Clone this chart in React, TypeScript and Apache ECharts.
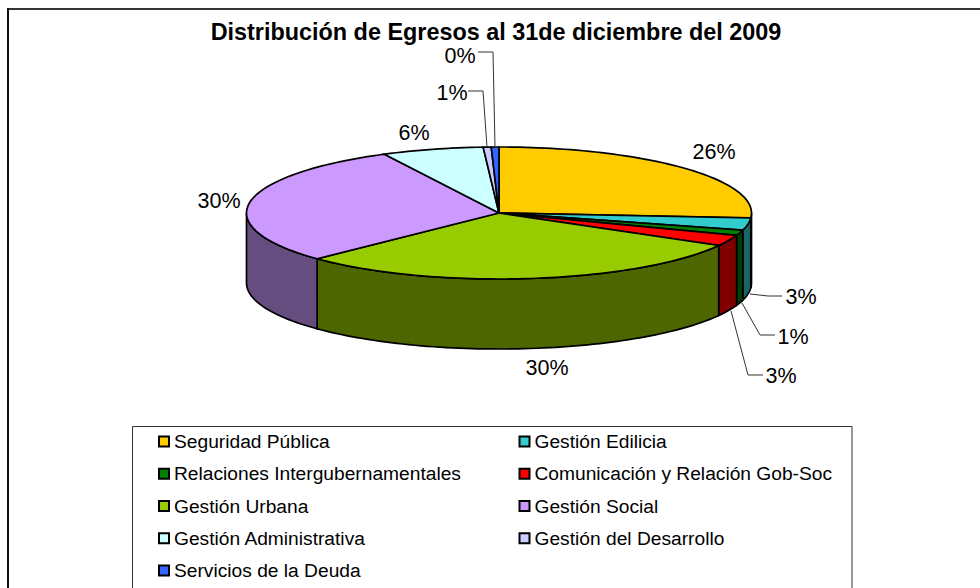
import React, { useEffect, useRef } from "react";
import * as echarts from "echarts";

const categories = [
  "Seguridad Pública",
  "Gestión Edilicia",
  "Relaciones Intergubernamentales",
  "Comunicación y Relación Gob-Soc",
  "Gestión Urbana",
  "Gestión Social",
  "Gestión Administrativa",
  "Gestión del Desarrollo",
  "Servicios de la Deuda",
];
const values = [26.2, 3.0, 1.3, 2.7, 29.6, 29.7, 6.5, 0.51, 0.49];
const percentLabels = ["26%", "3%", "1%", "3%", "30%", "30%", "6%", "1%", "0%"];
const topColors = ["#FFCC00", "#33CCCC", "#008000", "#FF0000", "#99CC00", "#CC99FF", "#CCFFFF", "#CCCCFF", "#3366FF"];
const sideColors = ["#806600", "#1A6666", "#004000", "#800000", "#4D6600", "#664D80", "#668080", "#666680", "#1A3380"];

// Layout only
const CX = 499, CY = 213, RX = 252.5, RY = 66, DEPTH = 70;
const labelPos: number[][] = [
  [714, 152], [801, 297], [793, 337], [781, 376], [547, 368], [219, 201], [414, 133], [452, 93], [460, 56],
];
const leaders: (number[][] | null)[] = [
  null,
  [[782, 296], [768, 296], [750, 294]],
  [[775, 335], [760, 335], [742, 303]],
  [[763, 375], [748, 375], [731, 311]],
  null,
  null,
  null,
  [[468, 91], [483, 91], [487, 147]],
  [[478, 52], [493, 52], [495, 147]],
];

const total = values.reduce((a, b) => a + b, 0);
const starts = values.map((_, i) => values.slice(0, i).reduce((a, b) => a + b, 0));
const pt = (deg: number, dy = 0) => {
  const r = (deg * Math.PI) / 180;
  return [CX + RX * Math.sin(r), CY - RY * Math.cos(r) + dy];
};
const arc = (a: number, b: number, dy = 0) => {
  const n = Math.max(2, Math.ceil(Math.abs(b - a) / 1.5));
  const out: number[][] = [];
  for (let k = 0; k <= n; k++) out.push(pt(a + ((b - a) * k) / n, dy));
  return out;
};

const makeSeries = (i: number) => ({
  type: "custom",
  name: categories[i],
  coordinateSystem: "none",
  itemStyle: { color: topColors[i], borderColor: "#000", borderWidth: 1 },
  data: [[values[i]]],
  renderItem: (_p: any, api: any) => {
    const a1 = (starts[i] / total) * 360;
    const a2 = a1 + (api.value(0) / total) * 360;
    const children: any[] = [];
    const s = Math.max(a1, 90);
    const e = Math.min(a2, 270);
    if (e > s) {
      children.push({
        type: "polygon",
        z2: 1,
        shape: { points: [...arc(s, e), ...arc(e, s, DEPTH)] },
        style: { fill: sideColors[i], stroke: "#000", lineWidth: 1.7 },
      });
    }
    children.push({
      type: "polygon",
      z2: 2,
      shape: { points: [[CX, CY], ...arc(a1, a2)] },
      style: { fill: topColors[i], stroke: "#000", lineWidth: 1.7 },
    });
    if (leaders[i]) {
      children.push({
        type: "polyline",
        z2: 3,
        shape: { points: leaders[i] },
        style: { fill: "none", stroke: "#333", lineWidth: 1 },
      });
    }
    children.push({
      type: "text",
      z2: 4,
      x: labelPos[i][0],
      y: labelPos[i][1],
      style: {
        text: percentLabels[i],
        fill: "#000",
        font: '21.5px "Liberation Sans", Arial, sans-serif',
        align: "center",
        verticalAlign: "middle",
      },
    });
    return { type: "group", children };
  },
});

const legendCommon = {
  orient: "vertical",
  selectedMode: false,
  itemWidth: 10,
  itemHeight: 10,
  itemGap: 12.25,
  icon: "rect",
  textStyle: { fontFamily: '"Liberation Sans", Arial, sans-serif', fontSize: 19.2, color: "#000", padding: [0, 0, 0, 0], lineHeight: 20 },
  padding: 0,
};

export default function App() {
  const ref = useRef<HTMLDivElement>(null);
  useEffect(() => {
    const chart = echarts.init(ref.current!, undefined, { renderer: "svg" });
    chart.setOption({
      animation: false,
      backgroundColor: "#fff",
      title: {
        text: "Distribución de Egresos al 31de diciembre del 2009",
        left: 491,
        top: 15,
        textAlign: "center",
        textStyle: { fontFamily: '"Liberation Sans", Arial, sans-serif', fontSize: 23.4, fontWeight: "bold", color: "#000", lineHeight: 24 },
      },
      legend: [
        { ...legendCommon, left: 158, top: 431.5, data: categories.filter((_, i) => i % 2 === 0) },
        { ...legendCommon, left: 518.5, top: 431.5, data: categories.filter((_, i) => i % 2 === 1) },
      ],
      graphic: [
        { type: "line", silent: true, z: -1, shape: { x1: 8, y1: 9, x2: 980, y2: 9 }, style: { stroke: "#333", lineWidth: 2 } },
        { type: "line", silent: true, z: -1, shape: { x1: 8, y1: 8, x2: 8, y2: 588 }, style: { stroke: "#111", lineWidth: 2 } },
        { type: "rect", silent: true, z: -1, shape: { x: 132.5, y: 426.5, width: 719.5, height: 170 }, style: { fill: "#fff", stroke: "#333", lineWidth: 1 } },
      ],
      series: categories.map((_, i) => makeSeries(i)),
    });
    return () => chart.dispose();
  }, []);
  return <div ref={ref} style={{ position: "fixed", left: 0, top: 0, width: 980, height: 588 }} />;
}
